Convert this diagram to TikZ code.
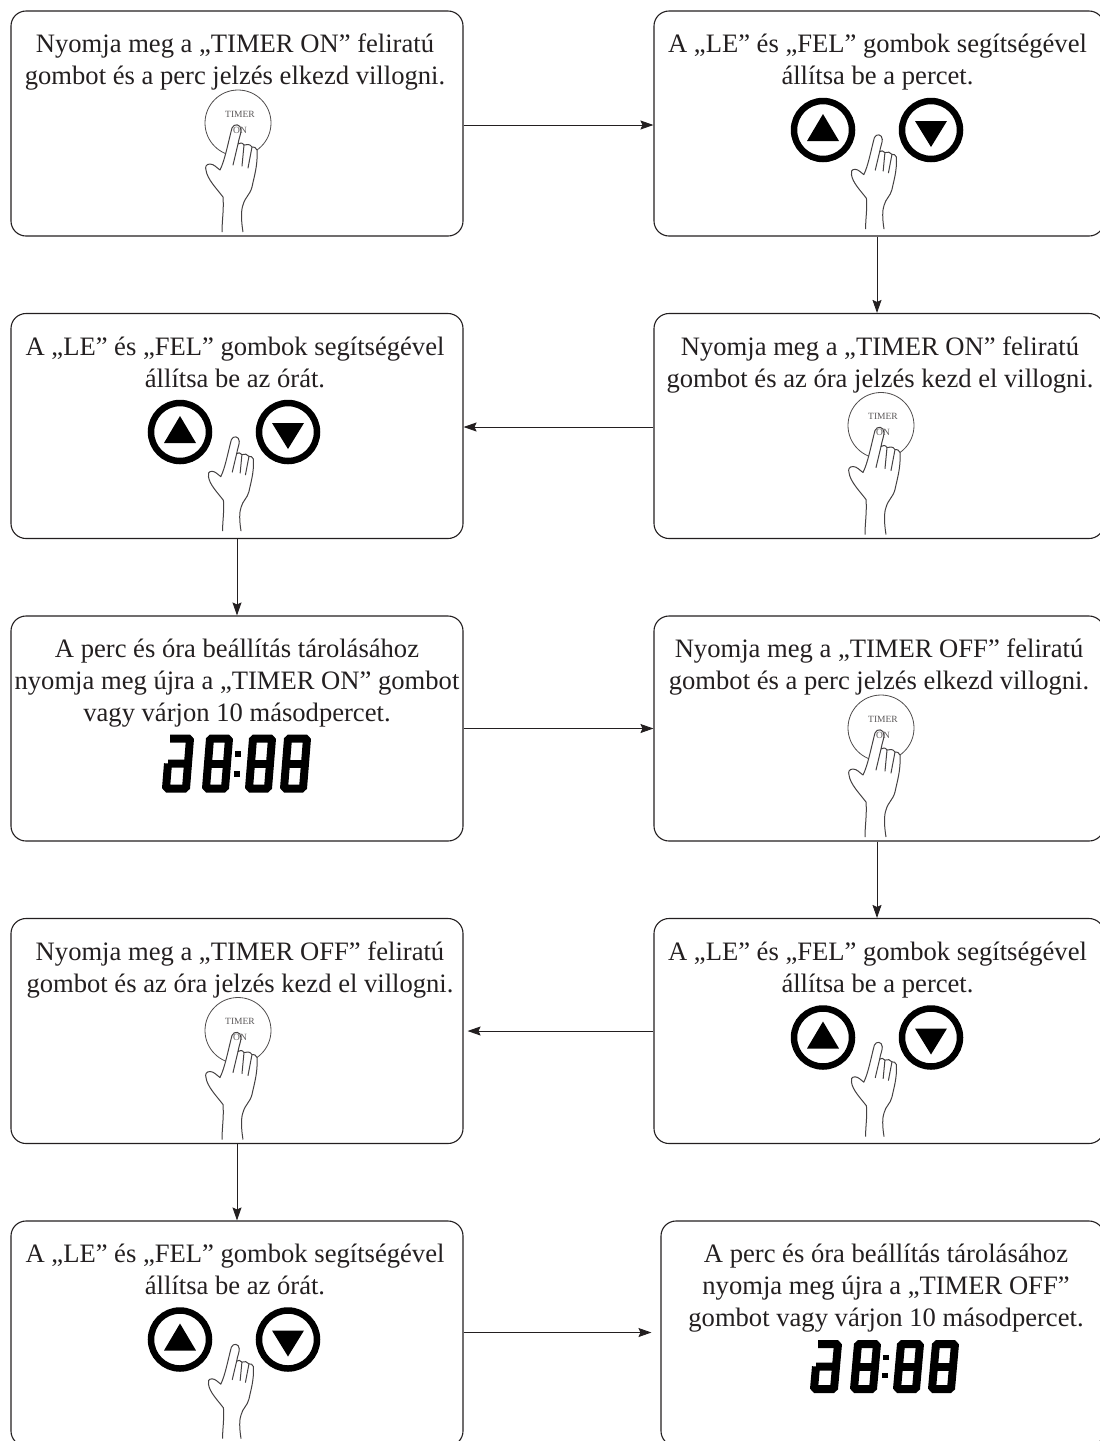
\documentclass[tikz,border=0pt]{standalone}
\usepackage{fontspec}
\setmainfont{Liberation Serif}
\usetikzlibrary{positioning,arrows.meta}

\definecolor{inkcol}{HTML}{231F20}

\tikzset{
  flowbox/.style={draw=inkcol, line width=1.1pt, rounded corners=15pt, minimum width=452pt, minimum height=225pt, inner sep=0pt},
  rightbox/.style={flowbox, minimum width=450pt},
  caption/.style={text=inkcol, font=\fontsize{26.6}{32}\selectfont, align=center, inner sep=0pt, execute at begin node=\strut},
  flow/.style={draw=inkcol, line width=.9pt, -{Stealth[length=13pt,width=9pt,inset=2pt]}},
  handpic/.pic={
    \draw[inkcol!85, line width=1pt, fill=white, line join=round]
      (8,107)
      .. controls (6,95) and (6,85) .. (8,80)
      .. controls (10,72) and (15,70) .. (17,62)
      .. controls (19,52) and (23,40) .. (22,25)
      .. controls (21,23) and (19,21) .. (17,22)
      .. controls (15,19) and (12,19) .. (9,20)
      .. controls (7,17) and (5,18) .. (3,19)
      .. controls (4,13) and (6,9) .. (6,5)
      .. controls (6,-1) and (-1,-2) .. (-3,3)
      .. controls (-7,18) and (-10,35) .. (-15,45)
      .. controls (-18,43) and (-21,39) .. (-25,39)
      .. controls (-29,39) and (-30,42) .. (-29,45)
      .. controls (-28,54) and (-18,64) .. (-12,72)
      .. controls (-11,85) and (-13,95) .. (-13,107);
    \draw[inkcol!85, line width=1pt, line cap=round] (3,19) -- (-2,40);
    \draw[inkcol!85, line width=1pt, line cap=round] (9,20) -- (7,41);
    \draw[inkcol!85, line width=1pt, line cap=round] (17,22) -- (13,43);
  },
  timerbutton/.pic={
    \draw[inkcol!80, line width=.8pt] (3,-2) circle (33);
    \pic at (0,0) {handpic};
    \node[text=inkcol!75, font=\fontsize{9.5}{10}\selectfont, inner sep=0pt] (timertext) at (5,-11) {TIMER};
    \node[text=inkcol!75, font=\fontsize{9.5}{10}\selectfont, inner sep=0pt] (ontext) at (5,5) {ON};
  },
  updown/.pic={
    \draw[black, line width=6.5pt] (-54,-5) circle (29);
    \fill[black] (-54,-21) -- (-70,6) -- (-38,6) -- cycle;
    \draw[black, line width=6.5pt] (54,-5) circle (29);
    \fill[black] (54,12) -- (38,-14) -- (70,-14) -- cycle;
    \pic[scale=.88] at (0,0) {handpic};
  },
  clockdigits/.pic={
    \begin{scope}[xslant=.08, black, line width=8pt, line join=bevel]
      \draw (-68,0) -- (-48,0) (-68,-25) -- (-48,-25) -- (-48,25) -- (-68,25) -- (-68,0);
      \foreach \digitx in {-28,15,50} {
        \draw ([xshift=\digitx pt]0,-25) -- ++(19,0) -- ++(0,50) -- ++(-19,0) -- cycle;
        \draw ([xshift=\digitx pt]0,0) -- ++(19,0);
      }
    \end{scope}
    \fill[black] (-1,-13) rectangle (5,-7);
    \fill[black] (-2,7) rectangle (4,13);
  }
}

\begin{document}
\begin{tikzpicture}[x=1pt, y=-1pt, node distance=302.5pt]
    \path[use as bounding box, clip] (0,0) rectangle (1100,1441);

    \node[flowbox]                                          (a1) at (237,123.5) {};
    \node[flowbox, below of=a1]                             (a2) {};
    \node[flowbox, below of=a2]                             (a3) {};
    \node[flowbox, below of=a3]                             (a4) {};
    \node[flowbox, below of=a4]                             (a5) {};

    \node[rightbox] (b1) at (879,123.5) {};
    \node[rightbox, below of=b1]                            (b2) {};
    \node[rightbox, below of=b2]                            (b3) {};
    \node[rightbox, below of=b3]                            (b4) {};
    \node[rightbox, below of=b4, xshift=3.5pt, minimum width=443pt] (b5) {};

    \node[caption, below=23.5pt of a1.north, xshift=-2pt] (ta1) {Nyomja meg a „TIMER ON” feliratú\\gombot és a perc jelzés elkezd villogni.};
    \node[caption, below=23.5pt of b1.north, xshift=-1.5pt] (tb1) {A „LE” és „FEL” gombok segítségével\\állítsa be a percet.};
    \node[caption, below=23.5pt of a2.north, xshift=-2pt] (ta2) {A „LE” és „FEL” gombok segítségével\\állítsa be az órát.};
    \node[caption, below=23.5pt of b2.north, xshift=1pt] (tb2) {Nyomja meg a „TIMER ON” feliratú\\gombot és az óra jelzés kezd el villogni.};
    \node[caption, below=23.5pt of a3.north] (ta3) {A perc és óra beállítás tárolásához\\nyomja meg újra a „TIMER ON” gombot\\vagy várjon 10 másodpercet.};
    \node[caption, below=23.5pt of b3.north] (tb3) {Nyomja meg a „TIMER OFF” feliratú\\gombot és a perc jelzés elkezd villogni.};
    \node[caption, below=23.5pt of a4.north, xshift=3pt] (ta4) {Nyomja meg a „TIMER OFF” feliratú\\gombot és az óra jelzés kezd el villogni.};
    \node[caption, below=23.5pt of b4.north, xshift=-1.5pt] (tb4) {A „LE” és „FEL” gombok segítségével\\állítsa be a percet.};
    \node[caption, below=23.5pt of a5.north, xshift=-2pt] (ta5) {A „LE” és „FEL” gombok segítségével\\állítsa be az órát.};
    \node[caption, below=23.5pt of b5.north, xshift=3.5pt] (tb5) {A perc és óra beállítás tárolásához\\nyomja meg újra a „TIMER OFF”\\gombot vagy várjon 10 másodpercet.};

    \pic at ([shift={(-2,1.5)}]a1.center) {timerbutton};
    \pic at ([shift={(-2,11.5)}]b1.center) {updown};
    \pic at ([shift={(-3,11)}]a2.center) {updown};
    \pic at ([shift={(-1,1.5)}]b2.center) {timerbutton};
    \pic at ([shift={(-1,35)}]a3.center) {clockdigits};
    \pic at ([shift={(-1,1.5)}]b3.center) {timerbutton};
    \pic at ([shift={(-2,11.5)}]b4.center) {updown};
    \pic at ([shift={(-2,1.5)}]a4.center) {timerbutton};
    \pic at ([shift={(-3,11)}]a5.center) {updown};
    \pic[yscale=.9] at ([shift={(1.5,33)}]b5.center) {clockdigits};

    \draw[flow] ([yshift=-1.5pt]a1.east) -- ([yshift=-1.5pt]b1.west);
    \draw[flow] (b1.south -| 877,0) -- (b2.north -| 877,0);
    \draw[flow] ([yshift=-1pt]b2.west) -- ([yshift=-1pt]a2.east);
    \draw[flow] (a2) -- (a3);
    \draw[flow] (a3.east) -- (b3.west);
    \draw[flow] (b3.south -| 877,0) -- (b4.north -| 877,0);
    \draw[flow, shorten >=4pt] (b4.west) -- (a4.east);
    \draw[flow] (a4) -- (a5);
    \draw[flow, shorten >=9pt] ([yshift=1pt]a5.east) -- ([yshift=1pt]b5.west);
  \end{tikzpicture}
\end{document}
